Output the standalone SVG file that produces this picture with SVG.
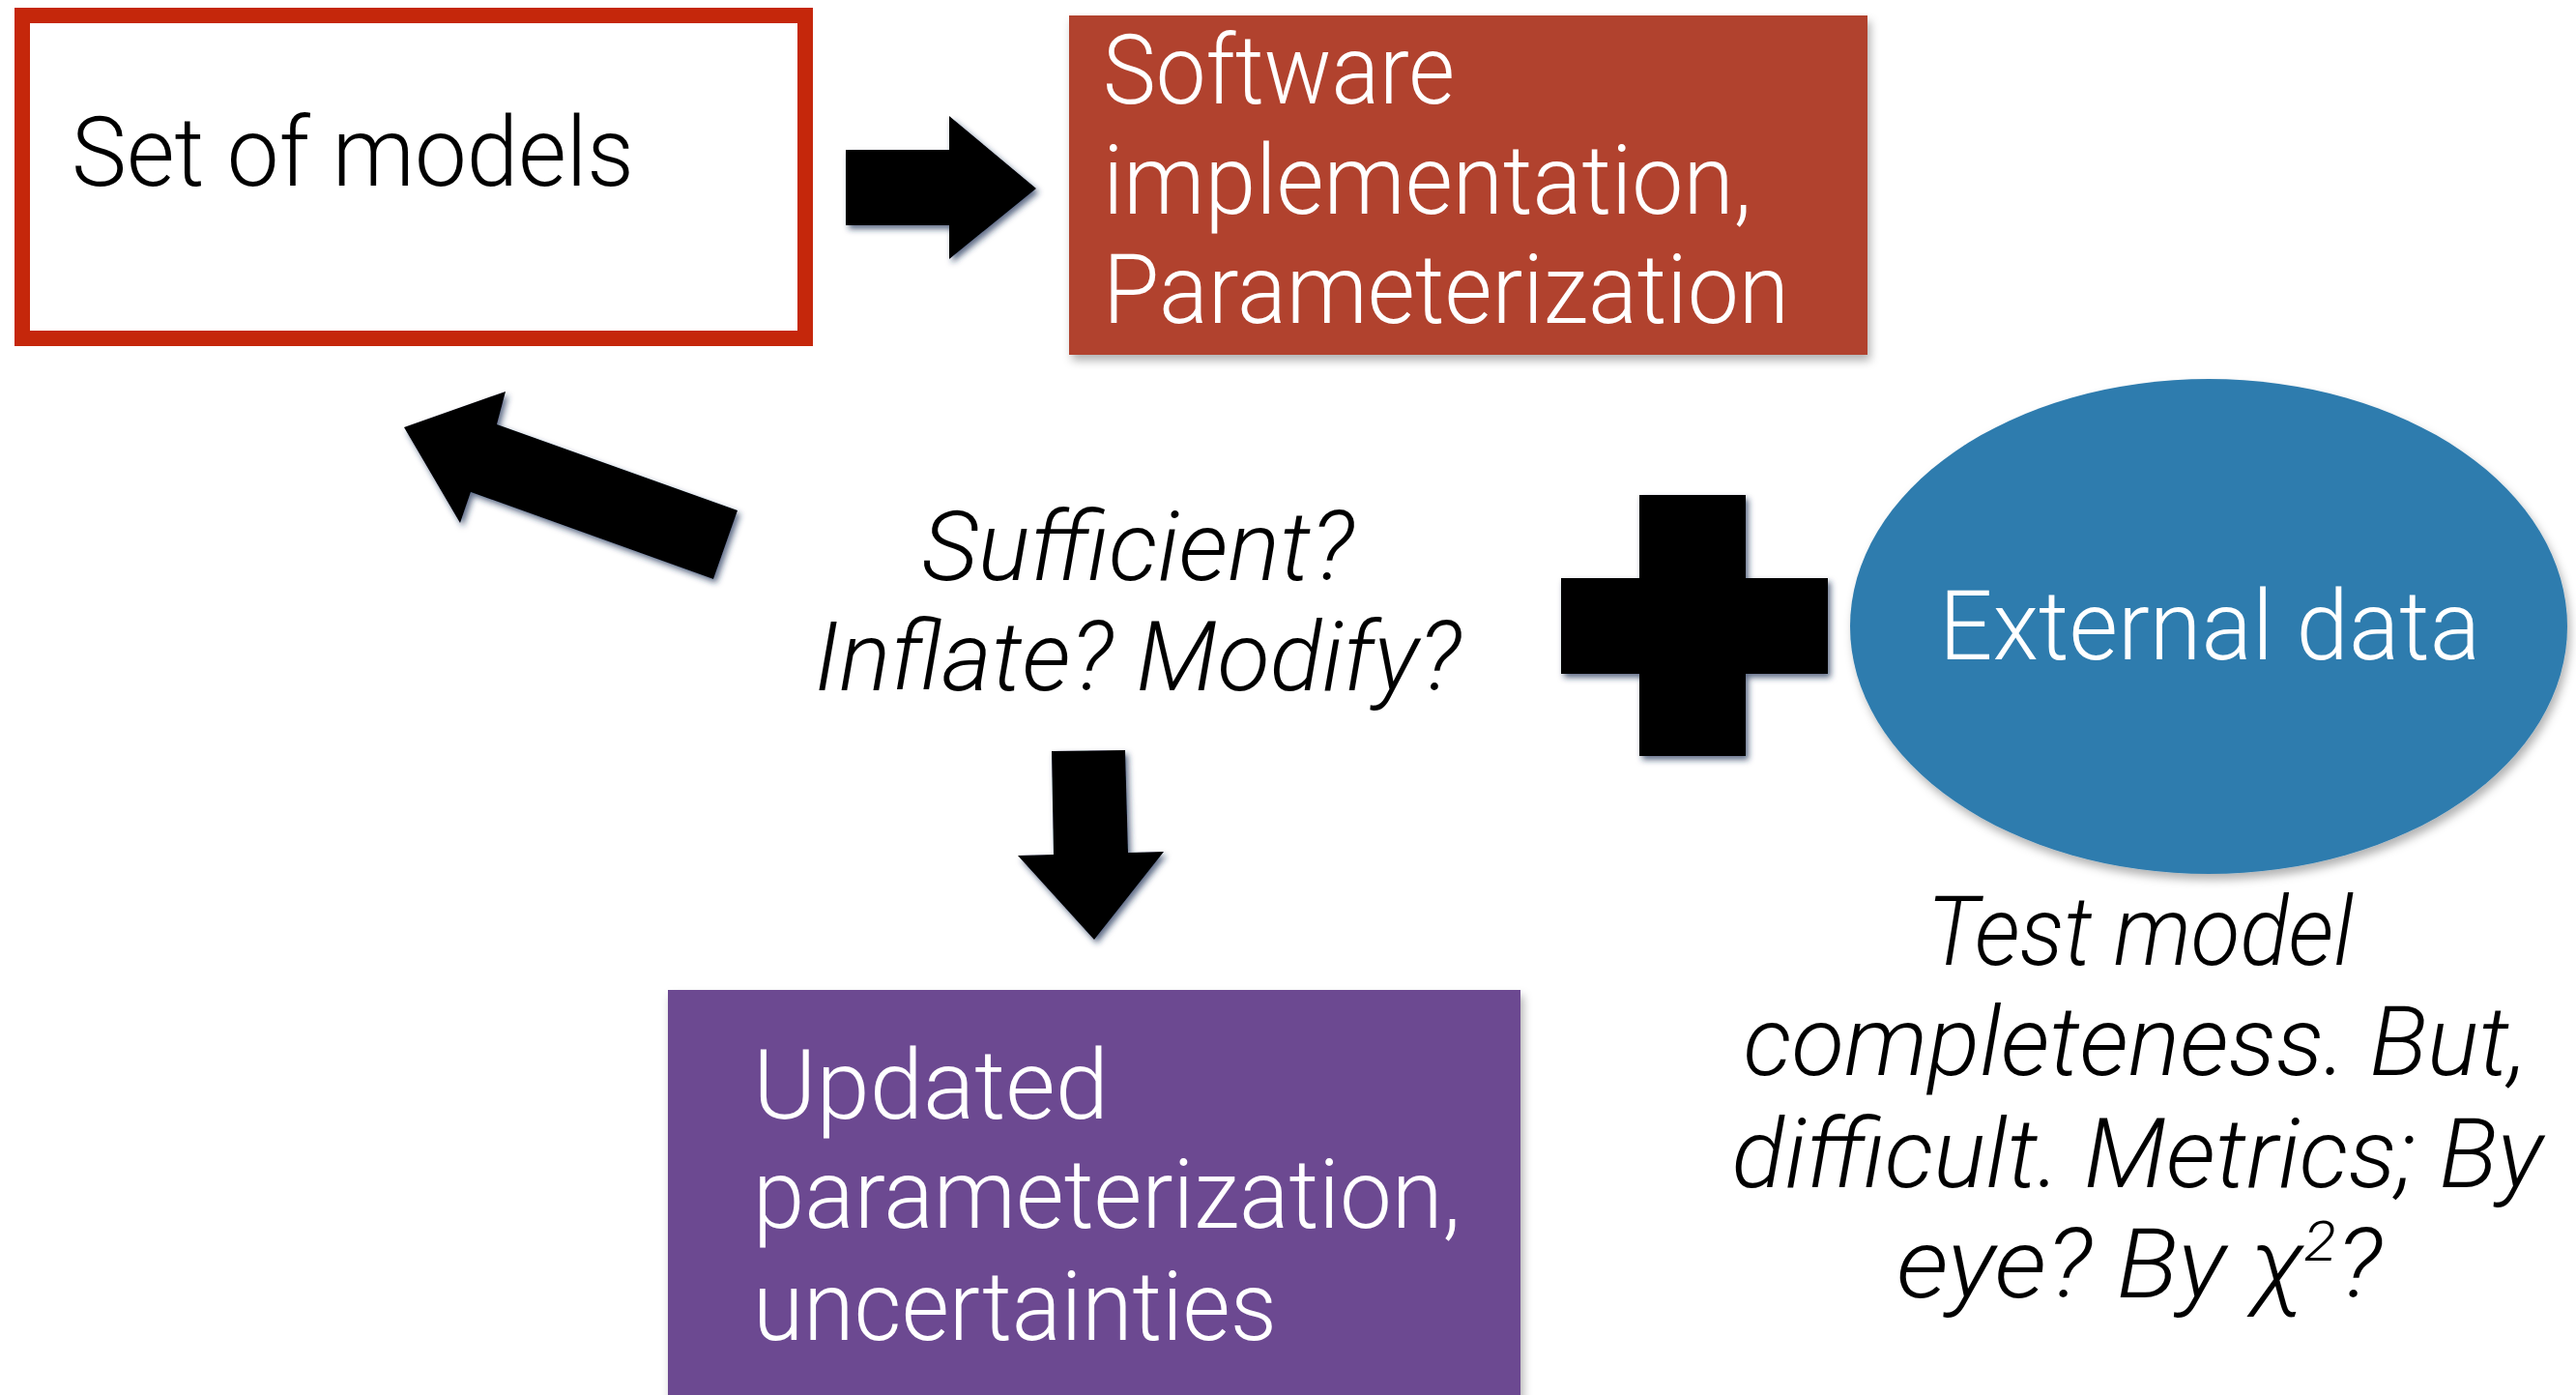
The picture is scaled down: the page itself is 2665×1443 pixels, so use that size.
<svg xmlns="http://www.w3.org/2000/svg" width="2665" height="1443" viewBox="0 0 2665 1443">
  <style>
    .t { font-family: Roboto, "Liberation Sans", Arial, sans-serif; font-weight: 300; font-size: 100px; }
    .dark { fill: #000000; }
    .light { fill: #ffffff; }
    .it { font-style: italic; }
    .arrow { fill: #000000; filter: url(#shadow); }
  </style>
  <defs>
    <filter id="shadow" x="-20%" y="-20%" width="140%" height="140%">
      <feDropShadow dx="3" dy="4" stdDeviation="3" flood-color="#1b2d55" flood-opacity="0.7"/>
    </filter>
    <filter id="boxshadow" x="-5%" y="-5%" width="110%" height="115%">
      <feDropShadow dx="3" dy="6" stdDeviation="5" flood-color="#000000" flood-opacity="0.3"/>
    </filter>
  </defs>
  <rect width="2665" height="1443" fill="#ffffff"/>

  <g id="set-of-models">
    <rect x="23" y="16" width="810" height="334" fill="#ffffff" stroke="#c5270b" stroke-width="16"/>
    <text class="t dark" x="74" y="192" textLength="582" lengthAdjust="spacingAndGlyphs">Set of models</text>
  </g>

  <g id="software">
    <rect x="1106" y="16" width="826" height="351" fill="#b1432f" filter="url(#boxshadow)"/>
    <text class="t light" x="1141" y="107" textLength="364" lengthAdjust="spacingAndGlyphs">Software</text>
    <text class="t light" x="1141" y="221" textLength="671" lengthAdjust="spacingAndGlyphs">implementation,</text>
    <text class="t light" x="1141" y="334" textLength="710" lengthAdjust="spacingAndGlyphs">Parameterization</text>
  </g>

  <g id="question">
    <text class="t dark it" x="1177" y="600" text-anchor="middle" textLength="447" lengthAdjust="spacingAndGlyphs">Sufficient?</text>
    <text class="t dark it" x="1177" y="714" text-anchor="middle" textLength="669" lengthAdjust="spacingAndGlyphs">Inflate? Modify?</text>
  </g>

  <g id="plus">
    <path class="arrow" d="M1696,512 H1806 V598 H1891 V697 H1806 V782 H1696 V697 H1615 V598 H1696 Z"/>
  </g>

  <g id="external-data">
    <ellipse cx="2285" cy="648" rx="371" ry="256" fill="#2f7cae" filter="url(#boxshadow)"/>
    <text class="t light" x="2286" y="682" text-anchor="middle" textLength="560" lengthAdjust="spacingAndGlyphs">External data</text>
  </g>

  <g id="test-note">
    <text class="t dark it" x="2214" y="998" text-anchor="middle" textLength="441" lengthAdjust="spacingAndGlyphs">Test model</text>
    <text class="t dark it" x="2209" y="1112" text-anchor="middle" textLength="811" lengthAdjust="spacingAndGlyphs">completeness. But,</text>
    <text class="t dark it" x="2211" y="1228" text-anchor="middle" textLength="839" lengthAdjust="spacingAndGlyphs">difficult. Metrics; By</text>
    <text class="t dark it" x="2213" y="1342" text-anchor="middle" textLength="502" lengthAdjust="spacingAndGlyphs">eye? By χ<tspan font-size="58" dy="-38">2</tspan><tspan dy="38">?</tspan></text>
  </g>

  <g id="updated">
    <rect x="691" y="1024" width="882" height="430" fill="#6c4a91" filter="url(#boxshadow)"/>
    <text class="t light" x="779" y="1157" textLength="368" lengthAdjust="spacingAndGlyphs">Updated</text>
    <text class="t light" x="779" y="1270" textLength="732" lengthAdjust="spacingAndGlyphs">parameterization,</text>
    <text class="t light" x="779" y="1386" textLength="542" lengthAdjust="spacingAndGlyphs">uncertainties</text>
  </g>

  <g id="connectors">
    <path class="arrow" d="M875,155 H982 V120 L1072,195 L982,268 V233 H875 Z"/>
    <path class="arrow" d="M418,442 L523,405 L514,439 L763,528 L738,599 L487,509 L476,541 Z"/>
    <path class="arrow" d="M1088,777 L1164,776 L1167,882 L1204,881 L1132,972 L1053,885 L1090,884 Z"/>
  </g>
</svg>
